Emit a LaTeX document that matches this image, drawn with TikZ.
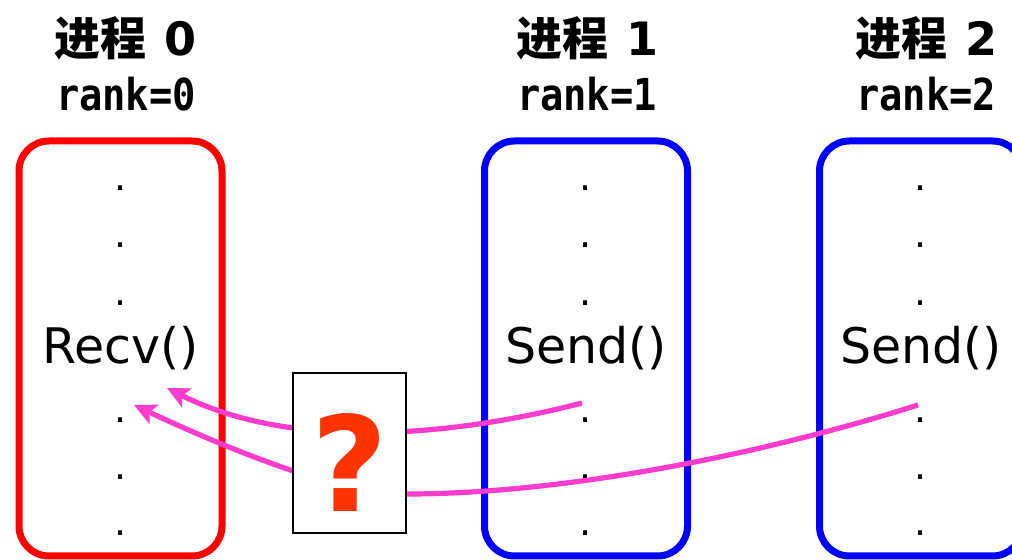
\documentclass[tikz,border=0pt]{standalone}
\usepackage{fontspec}
\setmainfont{DejaVu Sans}
\newfontfamily\cjk{Noto Sans CJK SC}
\newfontfamily\monob{DejaVu Sans Mono Bold}[FakeStretch=0.88]
\usetikzlibrary{arrows.meta}
\definecolor{msgpink}{RGB}{255,60,204}
\definecolor{qred}{RGB}{255,51,0}
\tikzset{
proc/.style={
  draw,
  line width=3.5pt,
  rounded corners=15pt,
  minimum width=101.5pt,
  minimum height=207.5pt,
  inner sep=0pt,
},
call/.style={font=\fontsize{24.5}{26}\selectfont},
dot/.style={font=\fontsize{19}{19}\selectfont, inner sep=0pt, anchor=base},
head/.style={font=\fontsize{23}{25}\selectfont\bfseries},
rnk/.style={font=\monob\fontsize{22}{24}\selectfont},
msg/.style={
       draw=msgpink,
       line width=2.6pt,
       -{Stealth[length=11pt,width=10.5pt,inset=2.5pt]},
},
qbox/.style={draw, line width=0.8pt, fill=white, minimum width=56.5pt, minimum height=80pt},
qmark/.style={text=qred, font=\fontsize{66}{68}\selectfont\bfseries, inner sep=0pt},
}
\begin{document}
\begin{tikzpicture}[x=0.5pt, y=-0.5pt]
\clip (0,0) rectangle (1012,560);

\node[proc, draw=red] (p0) at (120.5,348.5) {};
\node[proc, draw=blue] (p1) at (586,348.5) {};
\node[proc, draw=blue] (p2) at (921,348.5) {};

\node[head] (h0) at (126,38) {{\cjk 进程}\hspace{9pt}0};
\node[head] (h1) at (587,38) {{\cjk 进程}\hspace{9pt}1};
\node[head] (h2) at (926,38) {{\cjk 进程}\hspace{9pt}2};
\node[rnk] (r0) at (126,94) {rank=0};
\node[rnk] (r1) at (587,94) {rank=1};
\node[rnk] (r2) at (926,94) {rank=2};

\node[call] (recv) at (p0) {Recv()};
\node[call] (send1) at (p1) {Send()};
\node[call] (send2) at (p2) {Send()};

\foreach \x/\p in {120.5/0,586/1,921/2}
  \foreach \y [count=\k] in {188,245,303,420,477,533}
    \node[dot] (d\p-\k) at (\x,\y+2.5) {.};

\coordinate (s1) at (582,403);
\coordinate (t1) at (167,388);
\coordinate (s2) at (918,405);
\coordinate (t2) at (134,405);

\draw[msg] (s1) .. controls (470,432) and (300,455) .. (t1);
\draw[msg] (s2) .. controls (760,455) and (560,495) .. (400,494)
  .. controls (340,494) and (230,450) .. (t2);

\node[qbox] (q) at (349.5,453) {};
\node[qmark] (qm) at ([yshift=-5pt]q.center) {?};
\end{tikzpicture}
\end{document}
